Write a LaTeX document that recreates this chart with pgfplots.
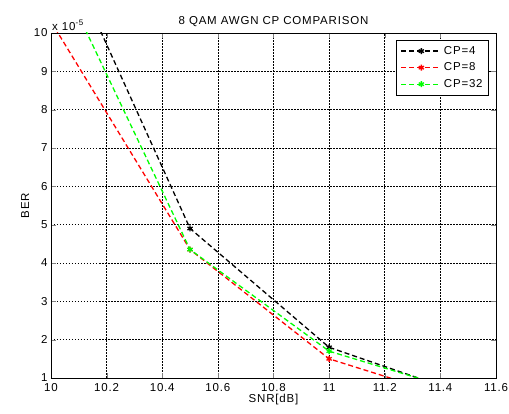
\documentclass[border=0pt]{standalone}
\usepackage{pgfplots}
\pgfplotsset{compat=1.18}
\usepackage{fontspec}
\setmainfont{Liberation Sans}[LetterSpace=7]
\begin{document}
\begin{tikzpicture}
\useasboundingbox (-51pt,-36pt) rectangle (458pt,378pt);
\begin{axis}[
    at={(0,0)}, anchor=south west,
    width=445pt, height=345pt, scale only axis,
    xmin=10, xmax=11.6, ymin=1e-5, ymax=1e-4,
    xtick={10,10.2,...,11.6},
    ytick={1e-5,2e-5,3e-5,4e-5,5e-5,6e-5,7e-5,8e-5,9e-5,1e-4},
    scaled y ticks=base 10:5,
    every y tick scale label/.style={at={(rel axis cs:0,1)}, anchor=south west, yshift=1pt, inner sep=1pt},
    ytick scale label code/.code={x 10\raisebox{0.9ex}{\fontsize{8}{9}\selectfont -5}},
    yticklabel style={/pgf/number format/fixed, /pgf/number format/precision=0},
    xticklabel style={/pgf/number format/fixed, /pgf/number format/precision=1, yshift=-2pt},
    /pgf/number format/assume math mode=true,
    tick label style={font=\fontsize{11.5}{13}\selectfont},
    tick align=inside,
    major tick length=5pt,
    grid=major,
    grid style={black, dash pattern=on 1.5pt off 1.5pt, line width=0.6pt},
    axis line style={black, line width=0.7pt},
    title={8 QAM AWGN CP COMPARISON},
    title style={font=\fontsize{11.5}{13}\selectfont, yshift=-3pt},
    xlabel={SNR[dB]}, ylabel={BER},
    label style={font=\fontsize{11.5}{13}\selectfont},
    xlabel style={yshift=4pt},
    ylabel style={yshift=-2pt},
    legend style={at={(1,1)}, anchor=north east, xshift=-7pt, yshift=-7pt, draw=black, line width=0.7pt,
        font=\fontsize{11.5}{13}\selectfont, row sep=3pt, inner sep=4pt, cells={anchor=west}},
    legend image code/.code={
        \draw[mark repeat=2,mark phase=2] plot coordinates {(0cm,0cm) (0.7cm,0cm) (1.4cm,0cm)};},
    legend cell align=left,
    clip marker paths=true,
    every axis plot/.append style={line width=1.3pt, dash pattern=on 5pt off 3pt,
        mark=asterisk, mark size=3pt, mark options={solid, line width=1.3pt}},
]
\addplot[black] coordinates {(10,12.9e-5) (10.5,4.9e-5) (11,1.8e-5) (11.5,0.55e-5)};
\addlegendentry{CP=4}
\addplot[red] coordinates {(10,10.3e-5) (10.5,4.35e-5) (11,1.5e-5) (11.5,0.36e-5)};
\addlegendentry{CP=8}
\addplot[green] coordinates {(10,11.97e-5) (10.5,4.35e-5) (11,1.7e-5) (11.5,0.6e-5)};
\addlegendentry{CP=32}
\end{axis}
\end{tikzpicture}
\end{document}
